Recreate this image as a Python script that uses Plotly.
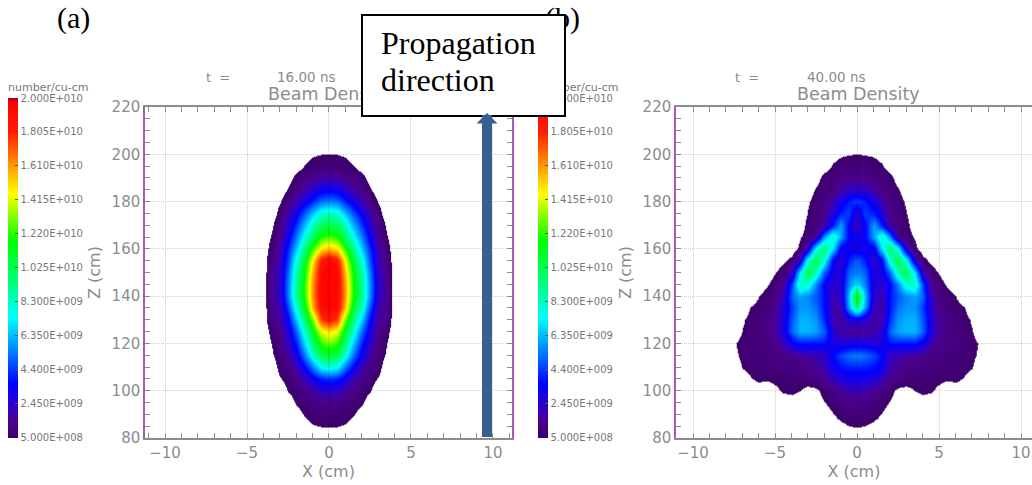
import numpy as np
import plotly.graph_objects as go

W, H = 1032, 485

# ---- data (density in units of 1e9 number/cu-cm) ----
Z_POS = list(range(80, 206, 5))
X_HALF_A = [0, .5, 1, 1.5, 2, 2.5, 3, 3.5, 4, 4.5]
X_HALF_B = [0, .5, 1, 1.5, 2, 2.5, 3, 3.5, 4, 4.5, 5, 5.5, 6, 6.5, 7, 7.5, 8]

DENSITY_A = [
    [0],
    [.52, .5, .42, .2],
    [1.0, .97, .8, .55, .1],
    [1.3, 1.27, 1.1, .9, .6],
    [2.4, 2.3, 1.8, 1.3, .9, .55],
    [4.3, 4.1, 3.1, 2.0, 1.3, .8, .45],
    [7.8, 7.3, 5.2, 3.4, 2, 1.2, .8],
    [10.8, 10.2, 7.8, 5.2, 3, 1.7, 1, .4],
    [13, 12.2, 9.6, 6.6, 3.9, 2.3, 1.2, .55],
    [15, 14.2, 11, 8, 5, 2.8, 1.4, .8],
    [18.5, 17.5, 13, 9.5, 6.5, 3.5, 1.7, 1.3],
    [19.5, 19, 15.5, 11, 8, 4.6, 2, 1.5],
    [19.5, 19.3, 16, 12, 9, 5.5, 2.4, 1.6, .1],
    [19.5, 19.3, 16, 12, 9, 5.5, 2.5, 1.6],
    [19.5, 19.2, 15.5, 11.6, 8.6, 5.2, 2.4, 1.5],
    [19.5, 18.5, 14.5, 10.8, 7.8, 4.6, 2.2, 1.3],
    [15.5, 14.8, 12.2, 9.2, 6.5, 4, 2, .9],
    [12.5, 12, 9.8, 7.6, 5.3, 3.2, 1.6, .6],
    [10.5, 10.1, 8.3, 6.3, 4.3, 2.6, 1.3, .42],
    [8.5, 8.1, 6.5, 4.8, 3.2, 1.9, .9],
    [5.5, 5.2, 4.1, 3, 2, 1.2, .45],
    [3.3, 3.1, 2.5, 1.8, 1.2, .6],
    [1.8, 1.75, 1.4, 1.1, .8, .1],
    [1, .97, .8, .55, .1],
    [.52, .5, .42, .2],
    [0],
]

DENSITY_B = [
    [0],
    [.52, .48, .3, .1],
    [1, .9, .75, .45, .1],
    [1.4, 1.3, 1.1, .8, .45],
    [2, 1.9, 1.6, 1.2, .8, .3, .2, .5, .75, .6, .3],
    [3.2, 3, 2.8, 2.2, 1.5, 1.2, 1, .9, .8, .8, .7, .6, .7, .45],
    [4, 4, 3.8, 3.2, 2, 1.6, 1.3, 1.2, 1.1, 1, 1, .9, .9, .8, .55],
    [5.5, 5.2, 4.6, 3.6, 2.2, 2, 1.8, 1.6, 1.4, 1.2, 1.1, 1, 1, .9, .7, .3],
    [3, 3, 2.8, 3, 3.8, 3.8, 3.8, 3.8, 3.2, 2, 1.4, 1.1, 1, .9, .8, .4],
    [1.6, 1.6, 1.8, 2.6, 5, 6, 6.3, 6.3, 5, 2.8, 1.6, 1.2, 1, .9, .55],
    [3, 2.5, 1.8, 2, 4.2, 5.8, 6.2, 6.2, 4.8, 2.8, 1.6, 1.2, 1, .8, .4],
    [9.5, 6, 2, 1.8, 3.8, 5.2, 5.8, 5.8, 4.4, 2.5, 1.4, 1, .8, .55],
    [12, 6.5, 2.5, 2, 3.8, 4.8, 5.5, 6, 5, 2.2, 1.2, .9, .5],
    [7, 5.5, 2.8, 2.4, 3.5, 5.5, 8, 8.5, 4.5, 1.6, .9, .4],
    [5.5, 5, 2.8, 3, 5, 8.5, 10.5, 7, 2.2, .9, .45],
    [5, 4, 2.2, 3.4, 8, 10.5, 8, 2.5, .8, .3],
    [3, 3.2, 3.2, 7, 10, 7.5, 2.5, .7],
    [3.2, 3.5, 6, 8.5, 5.5, 1.4, .9, .4],
    [2, 3.5, 6, 4, 1.6, 1.1, .8],
    [2.5, 4.5, 4, 2.7, 1.4, 1, .55],
    [4.5, 4, 3, 2, 1.2, .9, .4],
    [2.4, 2.2, 1.7, 1.2, .9, .6],
    [1.4, 1.4, 1.2, 1, .8, .1],
    [1, 1, .9, .6, .1],
    [.52, .48, .4, .2],
    [0],
]

COLORBAR_VALUES = [5e8, 2.45e9, 4.4e9, 6.35e9, 8.3e9, 1.025e10, 1.22e10, 1.415e10, 1.61e10, 1.805e10, 2e10]
COLORBAR_LABELS = ["5.000E+008", "2.450E+009", "4.400E+009", "6.350E+009", "8.300E+009", "1.025E+010",
                   "1.220E+010", "1.415E+010", "1.610E+010", "1.805E+010", "2.000E+010"]
X_TICKS = [-10, -5, 0, 5, 10]
Z_TICKS = [80, 100, 120, 140, 160, 180, 200, 220]
TIMES = ["16.00 ns", "40.00 ns"]

ZMIN, ZMAX = 4.9e8, 2e10
STOPS = [(.49, "rgba(255,255,255,0)"), (.4999, "rgba(255,255,255,0)"), (.5, "#3c0068"), (1.5, "#4b0090"),
         (2.6, "#2500d8"), (3.6, "#0000ff"), (5.2, "#0070ff"), (7.4, "#00ffff"), (9.6, "#00ff70"),
         (11.8, "#00ff00"), (14.5, "#ffff00"), (16, "#ffa000"), (18, "#ff2000"), (19.7, "#ff0000"),
         (20, "#a80020")]
COLORSCALE = [[(v * 1e9 - ZMIN) / (ZMAX - ZMIN), c] for v, c in STOPS]


def full_grid(half_x, rows):
    n = len(half_x)
    z = np.array([r + [0] * (n - len(r)) for r in rows], dtype=float) * 1e9
    x = np.array(half_x, dtype=float)
    return np.concatenate([-x[:0:-1], x]), np.hstack([z[:, :0:-1], z])


def px(x):
    return x / W


def py(y):
    return 1 - y / H


GREY = "#8c8c8c"
PURPLE = "#a65ab8"
FONT = "DejaVu Sans"
fig = go.Figure()

for i, (hx, rows, bar_x) in enumerate([(X_HALF_A, DENSITY_A, 8), (X_HALF_B, DENSITY_B, 538)]):
    gx, gz = full_grid(hx, rows)
    suffix = "" if i == 0 else "2"
    fig.add_trace(go.Heatmap(
        x=gx, y=Z_POS, z=gz, zsmooth="best", zmin=ZMIN, zmax=ZMAX, colorscale=COLORSCALE,
        xaxis="x" + suffix, yaxis="y" + suffix, hoverinfo="skip",
        colorbar=dict(
            x=px(bar_x), xanchor="left", xpad=0, y=py(438), yanchor="bottom", ypad=0,
            thickness=10, thicknessmode="pixels", len=358, lenmode="pixels", outlinewidth=0,
            tickmode="array", tickvals=COLORBAR_VALUES, ticktext=COLORBAR_LABELS,
            ticks="inside", ticklen=3, tickcolor="#555555",
            tickfont=dict(family=FONT, size=10, color="#777777"),
            title=dict(text="number/cu-cm", side="top", font=dict(family=FONT, size=11, color="#777777")),
        ),
    ))
    fig.add_trace(go.Scatter(
        x=[0, 0], y=[85, 200], mode="lines", line=dict(color="rgba(0,0,0,0.15)", width=1),
        xaxis="x" + suffix, yaxis="y" + suffix, hoverinfo="skip", showlegend=False,
    ))


def x_axis(domain, rng, anchor):
    return dict(domain=domain, range=rng, anchor=anchor, tickmode="array", tickvals=X_TICKS,
                showgrid=True, gridcolor="#cfcfcf", griddash="1px,1px", gridwidth=1, zeroline=False,
                showline=True, linecolor=GREY, linewidth=1.5, mirror="allticks",
                ticks="inside", ticklen=0, tickcolor=GREY, tickwidth=1,
                minor=dict(dtick=1, ticks="inside", ticklen=5, tickcolor=GREY, tickwidth=1, showgrid=False),
                tickfont=dict(family=FONT, size=15, color=GREY),
                title=dict(text="X (cm)", font=dict(family=FONT, size=16, color=GREY), standoff=2))


def y_axis(anchor, mirror):
    return dict(domain=[py(438), py(107)], range=[80, 220], anchor=anchor, tickmode="array", tickvals=Z_TICKS,
                showgrid=True, gridcolor="#cfcfcf", griddash="1px,1px", gridwidth=1, zeroline=False,
                showline=True, linecolor=PURPLE, linewidth=1.5, mirror=mirror,
                ticks="inside", ticklen=0, tickcolor=GREY, tickwidth=1,
                minor=dict(dtick=5, ticks="inside", ticklen=5, tickcolor=GREY, tickwidth=1, showgrid=False),
                tickfont=dict(family=FONT, size=15, color=GREY),
                title=dict(text="Z (cm)", font=dict(family=FONT, size=16, color=GREY), standoff=7))


def label(text, x, y, size, color=GREY, family=FONT, anchor="left"):
    return dict(text=text, x=px(x), y=py(y), xref="paper", yref="paper", xanchor=anchor, yanchor="middle",
                showarrow=False, font=dict(family=family, size=size, color=color))


SERIF = "Liberation Serif"
annotations = [
    label("(a)", 55, 18, 30, "#000000", SERIF),
    label("(b)", 543, 18, 30, "#000000", SERIF),
    label("t&nbsp;&nbsp;=", 204, 77, 13),
    label(TIMES[0], 275, 77, 13.5),
    label("Beam Density", 329, 94, 17.5, anchor="center"),
    label("t&nbsp;&nbsp;=", 733, 77, 13),
    label(TIMES[1], 805, 77, 13.5),
    label("Beam Density", 858, 94, 17.5, anchor="center"),
    # white call-out box (drawn after the labels so it hides what lies under it)
    dict(text=" ", x=px(361), y=py(14), xref="paper", yref="paper", xanchor="left", yanchor="top",
         showarrow=False, width=201, height=99, bgcolor="#ffffff", bordercolor="#000000", borderwidth=2, borderpad=0),
    label("Propagation", 379, 43, 32, "#000000", SERIF),
    label("direction", 379, 80, 32, "#000000", SERIF),
    # direction arrow
    dict(text=" ", x=px(487), y=py(113), xref="paper", yref="paper", showarrow=True, axref="pixel", ayref="pixel",
         ax=0, ay=334, arrowhead=1, arrowsize=0.35, arrowwidth=10, arrowcolor="#375f8f", standoff=0),
]

fig.update_layout(
    width=W, height=H, autosize=False, margin=dict(l=0, r=0, t=0, b=0, autoexpand=False),
    paper_bgcolor="#ffffff", plot_bgcolor="#ffffff", showlegend=False,
    xaxis=x_axis([px(145), px(512)], [-11.22, 11.16], "y"),
    yaxis=y_axis("x", "allticks"),
    xaxis2=x_axis([px(676), 1], [-11.04, 10.67], "y2"),
    yaxis2=y_axis("x2", False),
    annotations=annotations,
)

fig.write_html("out.html", config=dict(displayModeBar=False),
               post_script="document.body.style.margin='0';document.documentElement.style.overflow='hidden';")
